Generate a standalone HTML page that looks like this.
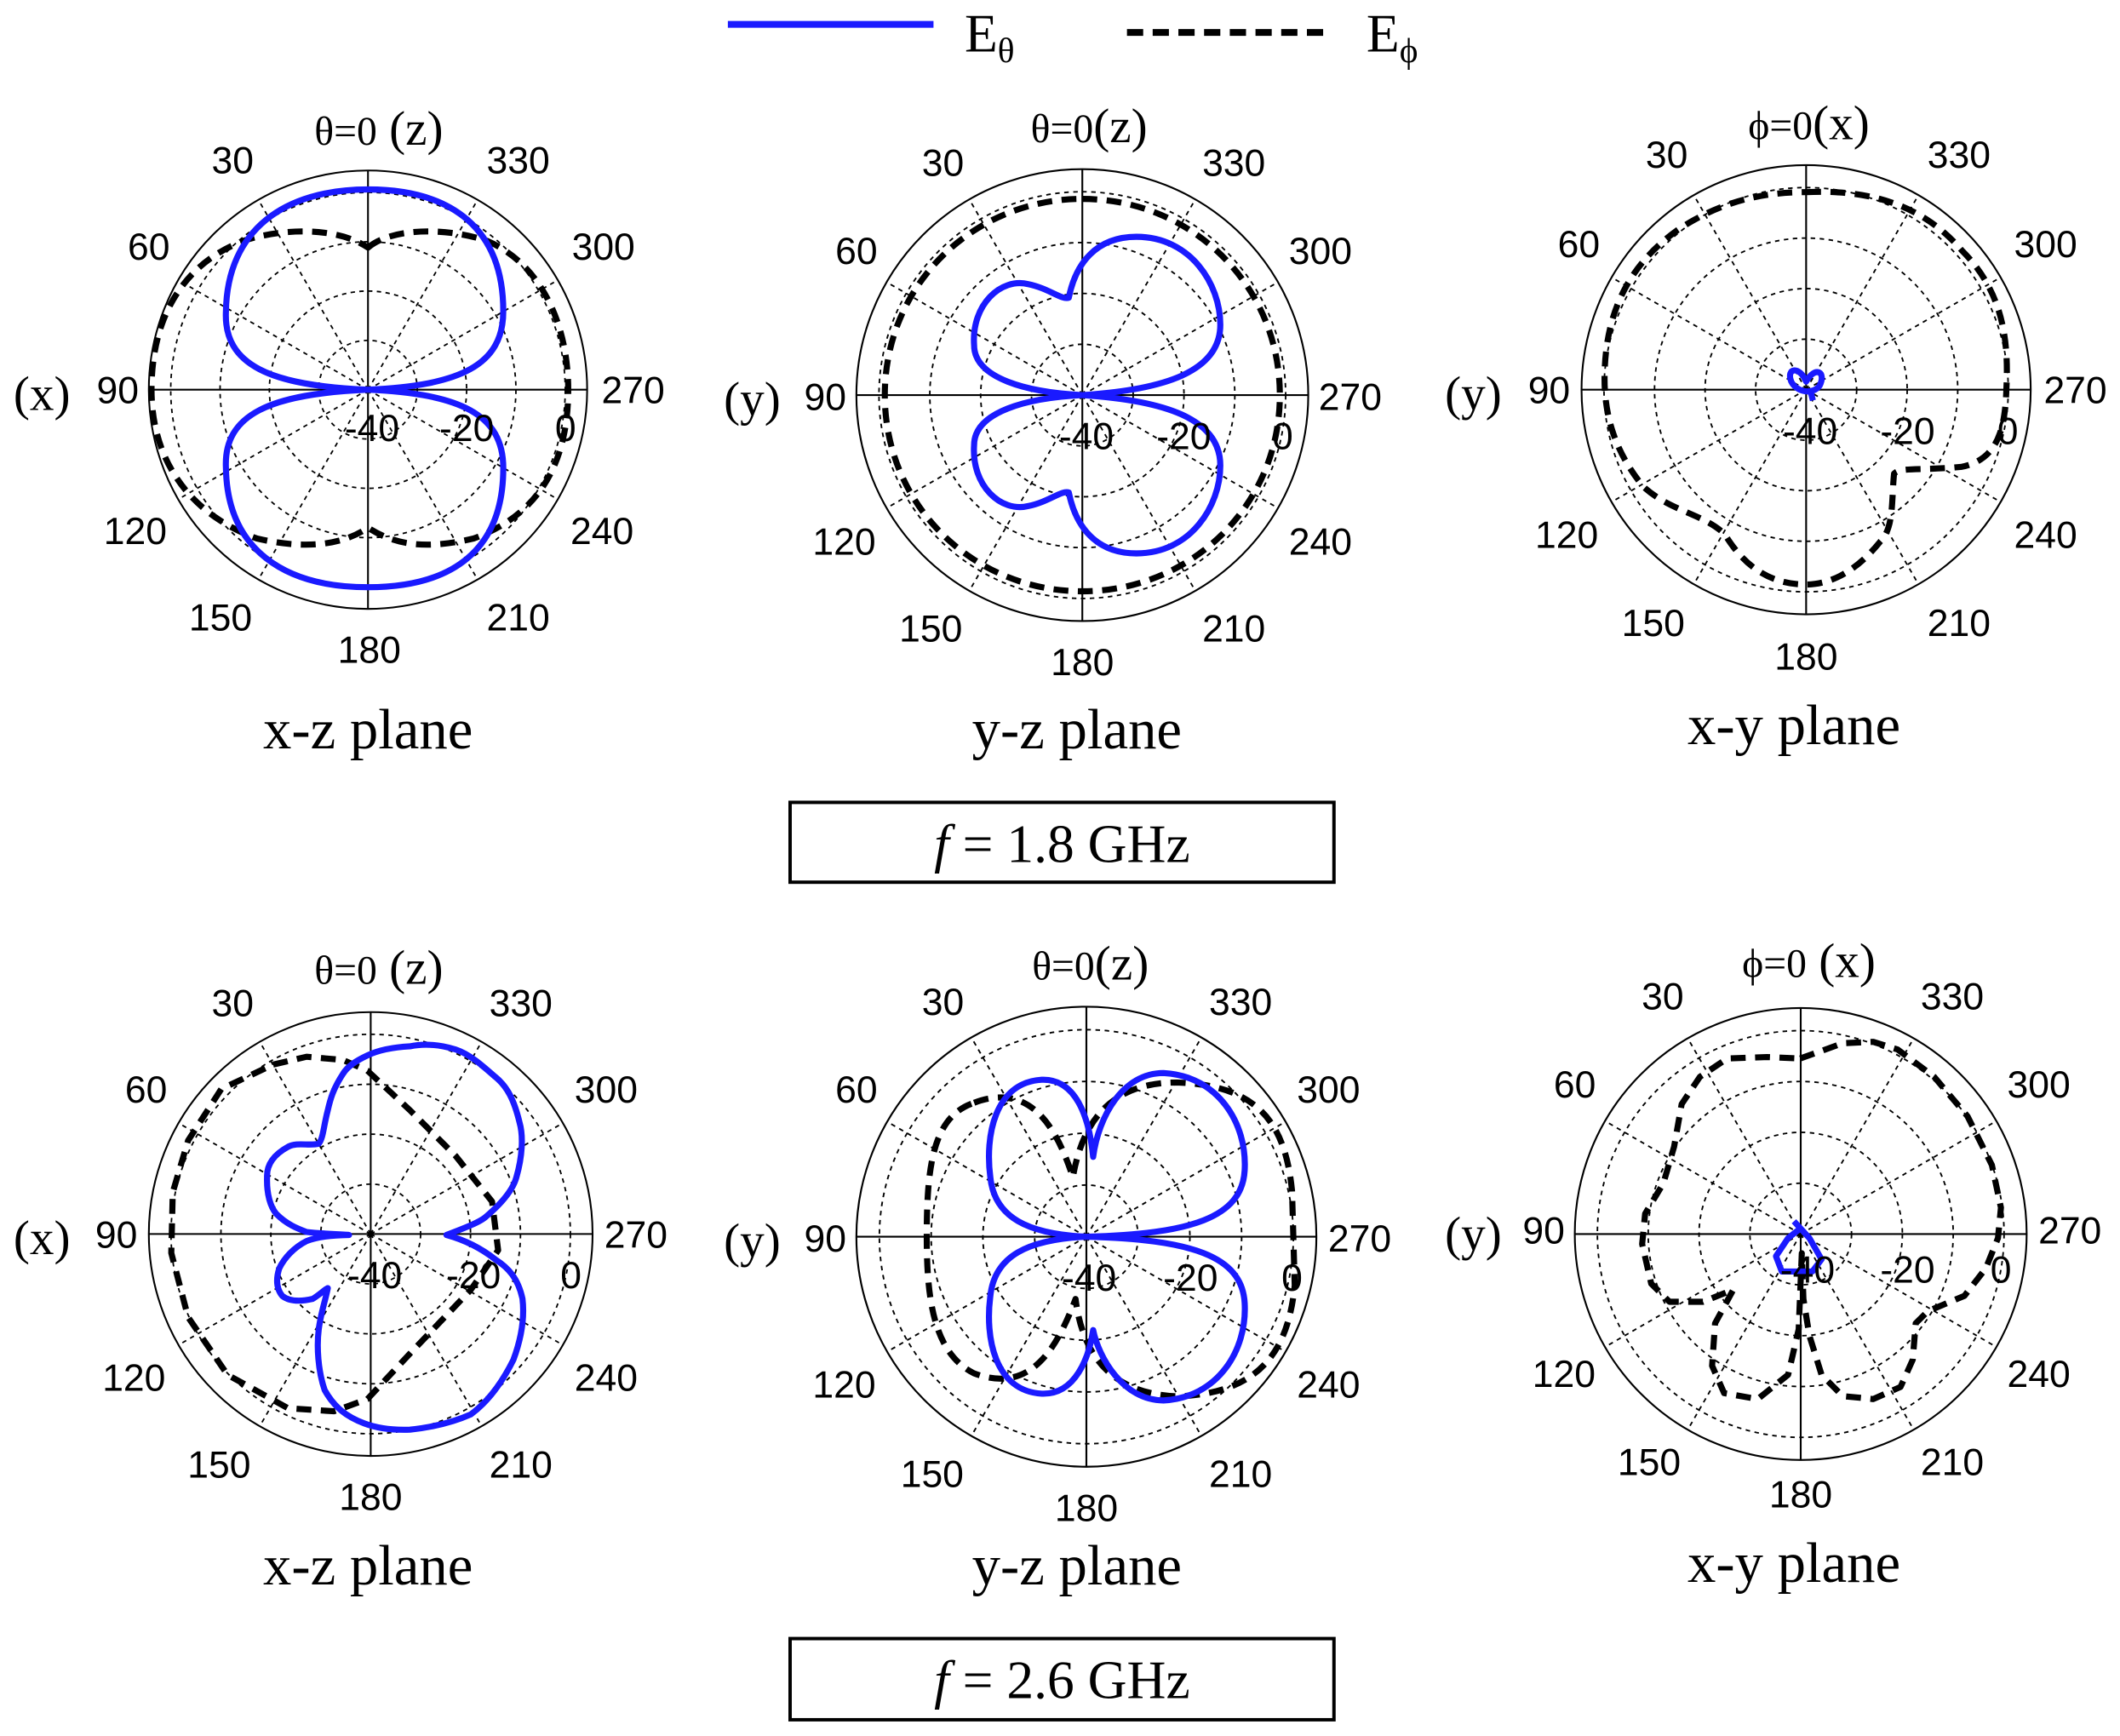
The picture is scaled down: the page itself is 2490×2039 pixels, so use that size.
<!DOCTYPE html>
<html><head><meta charset="utf-8"><style>
html,body{margin:0;padding:0;background:#fff;}
svg{display:block;}
text{font-family:"Liberation Sans",sans-serif;fill:#000;}
.s{font-family:"Liberation Serif",serif;}
.t{font-size:28px;}
.h{font-size:36px;}
.p{font-size:42px;font-family:"Liberation Serif",serif;}
.b{fill:none;stroke:#1a1aff;stroke-width:4.5;stroke-linejoin:round;}
.k{fill:none;stroke:#000;stroke-width:4.5;stroke-dasharray:11,7;stroke-linejoin:round;}
</style></head><body>
<svg width="2490" height="2039" viewBox="0 0 1567 1283" preserveAspectRatio="none" xmlns="http://www.w3.org/2000/svg">
<defs>
<g id="grid">
<g fill="none" stroke="#000" stroke-width="0.7" stroke-dasharray="2,2">
<circle r="22.5"/><circle r="45"/><circle r="67.5"/><circle r="90"/>
<line x1="0" y1="0" x2="50" y2="86.6"/><line x1="0" y1="0" x2="86.6" y2="50"/>
<line x1="0" y1="0" x2="50" y2="-86.6"/><line x1="0" y1="0" x2="86.6" y2="-50"/>
<line x1="0" y1="0" x2="-50" y2="86.6"/><line x1="0" y1="0" x2="-86.6" y2="50"/>
<line x1="0" y1="0" x2="-50" y2="-86.6"/><line x1="0" y1="0" x2="-86.6" y2="-50"/>
</g>
<g stroke="#000" stroke-width="0.8" fill="none">
<circle r="100"/><line x1="-100" y1="0" x2="100" y2="0"/><line x1="0" y1="-100" x2="0" y2="100"/>
</g>
</g>
</defs>
<rect width="1567" height="1283" fill="#fff"/>
<!-- legend -->
<line x1="538" y1="18" x2="690" y2="18" stroke="#1a1aff" stroke-width="5"/>
<text x="713" y="38" class="s" font-size="40">E<tspan font-size="26" dy="8">θ</tspan></text>
<line x1="833" y1="24" x2="978" y2="24" stroke="#000" stroke-width="5" stroke-dasharray="12,7"/>
<text x="1010" y="38" class="s" font-size="40">E<tspan font-size="26" dy="8">ϕ</tspan></text>

<!-- P1 -->
<use href="#grid" transform="translate(272,288) scale(1.62)"/>
<path class="k" d="M272,183 C290,168 330,168 360,178 C400,195 420,240 420,288 C420,340 400,380 350,398 C320,405 295,405 272,390 C250,405 220,405 190,398 C140,380 112,340 112,288 C112,235 135,195 180,178 C210,168 250,168 272,183 Z"/>
<path class="b" d="M272,288 C200,285 165,270 167,230 C168,170 210,140 272,140 C335,140 372,170 372,230 C372,270 340,285 272,288 Z M272,288 C200,291 165,306 167,346 C168,406 210,434 272,434 C335,434 372,406 372,346 C372,306 340,291 272,288 Z"/>
<text class="t" x="172" y="128" text-anchor="middle">30</text><text class="t" x="383" y="128" text-anchor="middle">330</text>
<text class="t" x="110" y="192" text-anchor="middle">60</text><text class="t" x="446" y="192" text-anchor="middle">300</text>
<text class="s h" x="10" y="303">(x)</text><text class="t" x="87" y="298" text-anchor="middle">90</text><text class="t" x="468" y="298" text-anchor="middle">270</text>
<text class="t" x="100" y="402" text-anchor="middle">120</text><text class="t" x="445" y="402" text-anchor="middle">240</text>
<text class="t" x="163" y="466" text-anchor="middle">150</text><text class="t" x="383" y="466" text-anchor="middle">210</text>
<text class="t" x="273" y="490" text-anchor="middle">180</text>
<text class="t" x="275" y="326" text-anchor="middle">-40</text><text class="t" x="345" y="326" text-anchor="middle">-20</text><text class="t" x="418" y="326" text-anchor="middle">0</text>
<text class="s h" x="280" y="107" text-anchor="middle"><tspan font-size="30">θ=0</tspan> (z)</text>
<text class="p" x="272" y="553" text-anchor="middle">x-z plane</text>

<!-- P2 -->
<use href="#grid" transform="translate(800,292) scale(1.67)"/>
<path class="k" d="M800,147 C880,147 946,210 946,292 C946,374 880,437 800,437 C720,437 654,374 654,292 C654,210 720,147 800,147 Z"/>
<path class="b" d="M800,292 C760,290 720,280 720,255 C718,225 740,205 760,210 C775,213 785,222 790,220 C795,195 810,175 840,175 C880,175 902,210 902,240 C902,275 860,288 800,292 Z M800,292 C760,294 720,304 720,329 C718,359 740,379 760,374 C775,371 785,362 790,364 C795,389 810,409 840,409 C880,409 902,374 902,344 C902,309 860,296 800,292 Z"/>
<text class="t" x="697" y="130" text-anchor="middle">30</text><text class="t" x="912" y="130" text-anchor="middle">330</text>
<text class="t" x="633" y="195" text-anchor="middle">60</text><text class="t" x="976" y="195" text-anchor="middle">300</text>
<text class="s h" x="535" y="307">(y)</text><text class="t" x="610" y="303" text-anchor="middle">90</text><text class="t" x="998" y="303" text-anchor="middle">270</text>
<text class="t" x="624" y="410" text-anchor="middle">120</text><text class="t" x="976" y="410" text-anchor="middle">240</text>
<text class="t" x="688" y="474" text-anchor="middle">150</text><text class="t" x="912" y="474" text-anchor="middle">210</text>
<text class="t" x="800" y="499" text-anchor="middle">180</text>
<text class="t" x="803" y="332" text-anchor="middle">-40</text><text class="t" x="875" y="332" text-anchor="middle">-20</text><text class="t" x="948" y="332" text-anchor="middle">0</text>
<text class="s h" x="805" y="105" text-anchor="middle"><tspan font-size="30">θ=0</tspan>(z)</text>
<text class="p" x="796" y="553" text-anchor="middle">y-z plane</text>

<!-- P3 -->
<use href="#grid" transform="translate(1335,288) scale(1.66)"/>
<path class="k" d="M1335,142 C1380,140 1420,150 1450,185 C1480,215 1485,250 1483,288 C1482,320 1475,340 1450,345 C1420,348 1405,345 1400,350 C1398,370 1400,390 1390,400 C1370,425 1350,432 1335,432 C1310,432 1290,420 1275,395 C1260,380 1235,378 1215,360 C1190,330 1186,300 1186,280 C1186,230 1205,195 1240,170 C1270,150 1300,142 1335,142 Z"/>
<path class="b" d="M1335,282 C1330,270 1320,272 1324,282 C1328,290 1340,292 1345,285 C1350,275 1342,270 1335,282 Z M1338,288 L1340,296"/>
<text class="t" x="1232" y="124" text-anchor="middle">30</text><text class="t" x="1448" y="124" text-anchor="middle">330</text>
<text class="t" x="1167" y="190" text-anchor="middle">60</text><text class="t" x="1512" y="190" text-anchor="middle">300</text>
<text class="s h" x="1068" y="303">(y)</text><text class="t" x="1145" y="298" text-anchor="middle">90</text><text class="t" x="1534" y="298" text-anchor="middle">270</text>
<text class="t" x="1158" y="405" text-anchor="middle">120</text><text class="t" x="1512" y="405" text-anchor="middle">240</text>
<text class="t" x="1222" y="470" text-anchor="middle">150</text><text class="t" x="1448" y="470" text-anchor="middle">210</text>
<text class="t" x="1335" y="495" text-anchor="middle">180</text>
<text class="t" x="1338" y="328" text-anchor="middle">-40</text><text class="t" x="1410" y="328" text-anchor="middle">-20</text><text class="t" x="1484" y="328" text-anchor="middle">0</text>
<text class="s h" x="1337" y="103" text-anchor="middle"><tspan font-size="30">ϕ=0</tspan>(x)</text>
<text class="p" x="1326" y="550" text-anchor="middle">x-y plane</text>

<rect x="584" y="593" width="402" height="59" fill="none" stroke="#000" stroke-width="2.5"/>
<text class="s" font-size="40" x="785" y="637" text-anchor="middle"><tspan font-style="italic">f</tspan> = 1.8 GHz</text>

<!-- P4 -->
<use href="#grid" transform="translate(274,912) scale(1.64)"/>
<g transform="translate(0,-5)">
<polygon class="k" points="201.9,791.8 226.6,786 253.6,788.4 271.6,796.3 303,825.5 336.7,859.2 363.7,893 368.2,929 348,958.2 303,1005.4 271.6,1039 246.8,1048 213,1045.8 168.1,1021 139,978.4 126.6,931 127.7,886.2 139,848 163.6,809.8"/>
<path class="b" d="M330,917.7 C345,912 355,908 359.2,904.2 C370,895 379,885 381.7,875 C386,860 387,845 384,834.5 C380,818 375,808 366,800.8 C356,792 347,784 336.7,780.6 C325,777 314,776 303,778.3 C290,779 280,781 271.6,785 C263,789 257,793 253.6,798.5 C246,810 244,818 242.3,825.5 C239,838 239,846 235.6,850.3 C228,852 220,849 213,852.5 C203,858 197,865 197.4,875 C197,888 200,897 204.1,902 C212,910 220,913 226.6,915.5 C240,917 250,917 258,917.7 C245,918 235,919 226.6,922.2 C217,927 210,935 206.4,942.4 C204,950 204,957 208.6,962.7 C214,967 222,967 231,965 C236,962 240,958 242.3,957 C240,968 237,976 235.6,987.4 C234,1000 235,1018 240,1032.4 C247,1045 256,1052 269.3,1057 C280,1061 292,1062 303,1061.6 C318,1060 333,1057 348,1050.3 C362,1040 372,1025 379.5,1009.9 C385,995 388,980 386.2,964.9 C383,950 376,942 366,935.7 C355,927 342,921 330,917.7 Z"/>
</g>
<text class="t" x="172" y="751" text-anchor="middle">30</text><text class="t" x="385" y="751" text-anchor="middle">330</text>
<text class="t" x="108" y="815" text-anchor="middle">60</text><text class="t" x="448" y="815" text-anchor="middle">300</text>
<text class="s h" x="10" y="927">(x)</text><text class="t" x="86" y="922" text-anchor="middle">90</text><text class="t" x="470" y="922" text-anchor="middle">270</text>
<text class="t" x="99" y="1028" text-anchor="middle">120</text><text class="t" x="448" y="1028" text-anchor="middle">240</text>
<text class="t" x="162" y="1092" text-anchor="middle">150</text><text class="t" x="385" y="1092" text-anchor="middle">210</text>
<text class="t" x="274" y="1116" text-anchor="middle">180</text>
<text class="t" x="277" y="952" text-anchor="middle">-40</text><text class="t" x="350" y="952" text-anchor="middle">-20</text><text class="t" x="422" y="952" text-anchor="middle">0</text>
<text class="s h" x="280" y="727" text-anchor="middle"><tspan font-size="30">θ=0</tspan> (z)</text>
<text class="p" x="272" y="1171" text-anchor="middle">x-z plane</text>

<!-- P5 -->
<use href="#grid" transform="translate(803,914) scale(1.70)"/>
<path class="k" d="M720,815 C760,800 780,830 793,870 C800,830 820,800 870,800 C930,802 950,830 955,880 L957,950 C952,1000 930,1030 870,1032 C820,1030 800,1000 795,960 C780,1000 760,1030 720,1015 C690,1000 685,960 685,914 C685,860 690,825 720,815 Z"/>
<path class="b" d="M803,914 C760,912 735,900 732,870 C728,840 735,800 770,798 C795,797 805,825 808,855 C812,825 830,793 860,793 C900,795 922,830 920,865 C918,900 880,912 803,914 Z M803,914 C760,916 735,928 732,958 C728,988 735,1028 770,1030 C795,1031 805,1003 808,983 C812,1003 830,1035 860,1035 C900,1033 922,998 920,963 C918,928 880,916 803,914 Z"/>
<text class="t" x="697" y="750" text-anchor="middle">30</text><text class="t" x="917" y="750" text-anchor="middle">330</text>
<text class="t" x="633" y="815" text-anchor="middle">60</text><text class="t" x="982" y="815" text-anchor="middle">300</text>
<text class="s h" x="535" y="929">(y)</text><text class="t" x="610" y="925" text-anchor="middle">90</text><text class="t" x="1005" y="925" text-anchor="middle">270</text>
<text class="t" x="624" y="1033" text-anchor="middle">120</text><text class="t" x="982" y="1033" text-anchor="middle">240</text>
<text class="t" x="689" y="1099" text-anchor="middle">150</text><text class="t" x="917" y="1099" text-anchor="middle">210</text>
<text class="t" x="803" y="1124" text-anchor="middle">180</text>
<text class="t" x="805" y="954" text-anchor="middle">-40</text><text class="t" x="880" y="954" text-anchor="middle">-20</text><text class="t" x="955" y="954" text-anchor="middle">0</text>
<text class="s h" x="806" y="724" text-anchor="middle"><tspan font-size="30">θ=0</tspan>(z)</text>
<text class="p" x="796" y="1171" text-anchor="middle">y-z plane</text>

<!-- P6 -->
<use href="#grid" transform="translate(1331,912) scale(1.67)"/>
<g transform="translate(0,-5)">
<polygon class="k" points="1330.6,787.3 1346.4,781.7 1362,776 1384.6,775 1402.6,780.6 1429.6,800.8 1454.3,830 1472.3,866 1479,897.5 1476.8,920 1467.8,942.4 1452,962.7 1425,974 1416,983 1413.8,1009.9 1404.8,1030 1384.6,1039 1362,1036.8 1346.4,1021 1337.4,992 1333,965 1331.8,931.2 1329.5,987.4 1321.7,1021 1299.2,1039 1274.4,1034.6 1265.5,1014.4 1267.7,983 1281.2,958.1 1258.7,967.1 1234,967.1 1220.5,953.7 1213.8,924.4 1216,902 1229.5,879.5 1237.4,852.5 1243,821 1256.5,800.8 1276.7,787.3 1306,786.2"/>
<polyline class="b" points="1326,907.6 1337.4,920 1346.4,935.7 1339.6,944.7 1317,944.7 1312.7,933.4 1321.7,920 1330.6,913"/>
</g>
<text class="t" x="1229" y="746" text-anchor="middle">30</text><text class="t" x="1443" y="746" text-anchor="middle">330</text>
<text class="t" x="1164" y="811" text-anchor="middle">60</text><text class="t" x="1507" y="811" text-anchor="middle">300</text>
<text class="s h" x="1068" y="924">(y)</text><text class="t" x="1141" y="919" text-anchor="middle">90</text><text class="t" x="1530" y="919" text-anchor="middle">270</text>
<text class="t" x="1156" y="1025" text-anchor="middle">120</text><text class="t" x="1507" y="1025" text-anchor="middle">240</text>
<text class="t" x="1219" y="1090" text-anchor="middle">150</text><text class="t" x="1443" y="1090" text-anchor="middle">210</text>
<text class="t" x="1331" y="1114" text-anchor="middle">180</text>
<text class="t" x="1336" y="948" text-anchor="middle">-40</text><text class="t" x="1410" y="948" text-anchor="middle">-20</text><text class="t" x="1479" y="948" text-anchor="middle">0</text>
<text class="s h" x="1337" y="722" text-anchor="middle"><tspan font-size="30">ϕ=0</tspan> (x)</text>
<text class="p" x="1326" y="1169" text-anchor="middle">x-y plane</text>

<rect x="584" y="1211" width="402" height="60" fill="none" stroke="#000" stroke-width="2.5"/>
<text class="s" font-size="40" x="785" y="1255" text-anchor="middle"><tspan font-style="italic">f</tspan> = 2.6 GHz</text>
</svg>
</body></html>
